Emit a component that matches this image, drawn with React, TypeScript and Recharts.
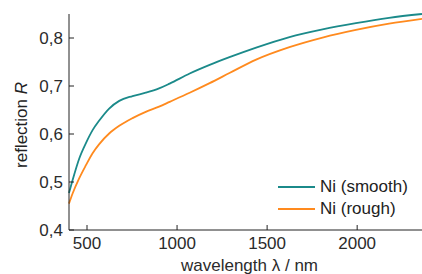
import React from "react";
import { LineChart, Line, XAxis, YAxis, Legend, Label } from "recharts";

const wavelengths = [400, 420, 457, 494, 531, 568, 623, 679, 753, 826, 900, 959, 1070, 1181, 1291, 1439, 1624, 1808, 1993, 2177, 2360];
const niSmooth = [0.477, 0.504, 0.549, 0.581, 0.608, 0.628, 0.653, 0.669, 0.679, 0.686, 0.695, 0.705, 0.726, 0.744, 0.76, 0.78, 0.802, 0.818, 0.831, 0.842, 0.85];
const niRough = [0.455, 0.476, 0.508, 0.535, 0.56, 0.579, 0.601, 0.617, 0.633, 0.646, 0.657, 0.667, 0.686, 0.706, 0.727, 0.755, 0.781, 0.801, 0.817, 0.83, 0.84];
const xTicks = [500, 1000, 1500, 2000];
const yTicks = [0.4, 0.5, 0.6, 0.7, 0.8];

const SMOOTH = "#1b8a8a";
const ROUGH = "#ff8a1e";
const FONT = '"Liberation Sans", Arial, sans-serif';

const data = wavelengths.map((w, i) => ({ w, smooth: niSmooth[i], rough: niRough[i] }));

const LegendBox = () => (
  <div style={{ fontFamily: FONT, fontSize: 17, color: "#222", lineHeight: "22px" }}>
    {[
      { name: "Ni (smooth)", color: SMOOTH },
      { name: "Ni (rough)", color: ROUGH },
    ].map((s) => (
      <div key={s.name} style={{ display: "flex", alignItems: "center", height: 22 }}>
        <svg width={42} height={22}>
          <line x1={0} x2={37} y1={11} y2={11} stroke={s.color} strokeWidth={2} />
        </svg>
        <span>{s.name}</span>
      </div>
    ))}
  </div>
);

const YTitle = () => (
  <text
    x={27}
    y={125}
    transform="rotate(-90, 27, 125)"
    textAnchor="middle"
    fontSize={17}
    fill="#222"
    fontFamily={FONT}
  >
    reflection <tspan fontStyle="italic">R</tspan>
  </text>
);

export default function App() {
  return (
    <div style={{ width: 422, height: 274, background: "#fff" }}>
      <style>{`body{margin:0}`}</style>
      <LineChart
        width={422}
        height={274}
        data={data}
        margin={{ top: 14, right: 0, bottom: 0, left: 0 }}
        style={{ fontFamily: FONT }}
      >
        <XAxis
          dataKey="w"
          type="number"
          domain={[400, 2360]}
          ticks={xTicks}
          height={44}
          tickSize={-5}
          tickMargin={12}
          stroke="#222"
          tick={{ fill: "#2b2b2b", fontSize: 17 }}
        >
          <Label value="wavelength λ / nm" position="insideBottom" offset={3} dx={4} fill="#2b2b2b" fontSize={17} />
        </XAxis>
        <XAxis
          xAxisId="top"
          orientation="top"
          dataKey="w"
          type="number"
          domain={[400, 2360]}
          ticks={xTicks}
          height={0}
          tickSize={-5}
          tick={false}
          stroke="#222"
        />
        <YAxis
          type="number"
          domain={[0.4, 0.85]}
          ticks={yTicks}
          width={69}
          tickSize={-5}
          tickMargin={11}
          stroke="#222"
          tick={{ fill: "#2b2b2b", fontSize: 17 }}
          tickFormatter={(v: number) => v.toFixed(1).replace(".", ",")}
        >
          <Label content={<YTitle />} />
        </YAxis>
        <Legend
          layout="horizontal"
          verticalAlign="middle"
          align="center"
          content={<LegendBox />}
          wrapperStyle={{ position: "absolute", left: 278, top: 176, width: 140 }}
        />
        <Line
          type="monotone"
          dataKey="smooth"
          stroke={SMOOTH}
          strokeWidth={1.8}
          dot={false}
          isAnimationActive={false}
        />
        <Line
          type="monotone"
          dataKey="rough"
          stroke={ROUGH}
          strokeWidth={1.8}
          dot={false}
          isAnimationActive={false}
        />
      </LineChart>
    </div>
  );
}
